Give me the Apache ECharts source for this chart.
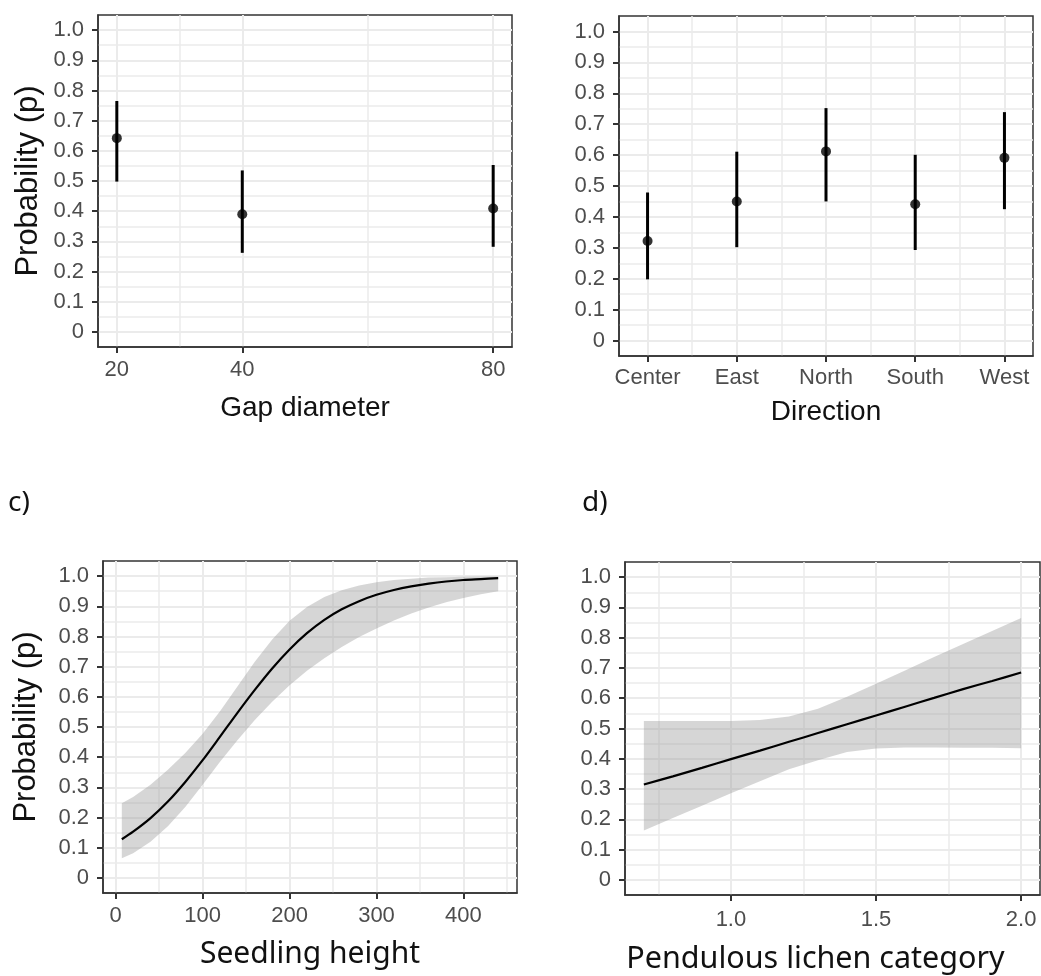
<!DOCTYPE html>
<html>
<head>
<meta charset="utf-8">
<script src="https://cdn.jsdelivr.net/npm/echarts@6/dist/echarts.min.js"></script>
<style>
  html, body { margin: 0; padding: 0; background: #fff; }
  #chart { width: 1041px; height: 976px; }
</style>
</head>
<body>
<div id="chart"></div>
<script>
// shared probability axis
const probTicks = [0, 0.1, 0.2, 0.3, 0.4, 0.5, 0.6, 0.7, 0.8, 0.9, 1.0]
const probMinor = [0.05, 0.15, 0.25, 0.35, 0.45, 0.55, 0.65, 0.75, 0.85, 0.95]

// a) gap diameter
const gapDiameter = [20, 40, 80]
const gapProb = [0.642, 0.390, 0.409]
const gapLower = [0.498, 0.262, 0.282]
const gapUpper = [0.765, 0.535, 0.553]
const gapTicks = [20, 40, 80]
const gapMinor = [30, 60]

// b) direction
const directions = ['Center', 'East', 'North', 'South', 'West']
const dirProb = [0.322, 0.450, 0.612, 0.441, 0.591]
const dirLower = [0.198, 0.302, 0.450, 0.293, 0.425]
const dirUpper = [0.479, 0.611, 0.752, 0.601, 0.739]
const dirTicks = [1, 2, 3, 4, 5]
const dirMinor = [1.5, 2.5, 3.5, 4.5]

// c) seedling height
const heightX = [7, 20, 40, 60, 80, 100, 120, 140, 160, 180, 200, 220, 240, 260, 280, 300, 320, 340, 360, 380, 400, 420, 440]
const heightProb = [0.128, 0.153, 0.198, 0.253, 0.318, 0.390, 0.468, 0.547, 0.623, 0.694, 0.757, 0.811, 0.855, 0.890, 0.917, 0.938, 0.954, 0.966, 0.975, 0.982, 0.987, 0.990, 0.993]
const heightLower = [0.065, 0.082, 0.120, 0.171, 0.235, 0.309, 0.385, 0.456, 0.523, 0.584, 0.638, 0.686, 0.728, 0.765, 0.798, 0.826, 0.853, 0.876, 0.896, 0.913, 0.927, 0.940, 0.950]
const heightUpper = [0.247, 0.268, 0.309, 0.358, 0.414, 0.478, 0.552, 0.634, 0.716, 0.790, 0.852, 0.898, 0.931, 0.953, 0.969, 0.980, 0.987, 0.991, 0.995, 0.996, 0.998, 0.999, 0.999]
const heightTicks = [0, 100, 200, 300, 400]
const heightMinor = [50, 150, 250, 350, 450]

// d) pendulous lichen category
const lichenX = [0.7, 0.8, 0.9, 1.0, 1.1, 1.2, 1.3, 1.4, 1.5, 1.6, 1.7, 1.8, 1.9, 2.0]
const lichenProb = [0.315, 0.342, 0.370, 0.399, 0.427, 0.456, 0.485, 0.514, 0.543, 0.572, 0.601, 0.630, 0.657, 0.685]
const lichenLower = [0.163, 0.204, 0.245, 0.286, 0.326, 0.365, 0.395, 0.422, 0.434, 0.437, 0.437, 0.436, 0.436, 0.435]
const lichenUpper = [0.525, 0.525, 0.525, 0.525, 0.528, 0.540, 0.565, 0.605, 0.648, 0.692, 0.736, 0.779, 0.822, 0.865]
const lichenTicks = [1.0, 1.5, 2.0]
const lichenMinor = [0.75, 1.25, 1.75]

const SANS = '"Liberation Sans", Arial, sans-serif'
const NOTO = '"Noto Sans", sans-serif'
const GRID_COLOR = '#ebebeb'
const AXIS_COLOR = '#333'
const LABEL_COLOR = '#4d4d4d'
const TICK_FONT = 22

const panels = [
  {
    box: { left: 98, top: 15, width: 414, height: 332 },
    xMin: 17, xMax: 83, xTicks: gapTicks, xMinor: gapMinor,
    xFormat: v => String(v), xMargin: 12,
    xName: 'Gap diameter', xNameGap: 47, xNameFont: SANS, xNameSize: 28, xNamePad: 0,
    yName: 'Probability (p)', yNameGap: 54
  },
  {
    box: { left: 619, top: 16, width: 414, height: 340 },
    xMin: 0.68, xMax: 5.32, xTicks: dirTicks, xMinor: dirMinor,
    xFormat: v => directions[Math.round(v) - 1], xMargin: 11,
    xName: 'Direction', xNameGap: 42, xNameFont: SANS, xNameSize: 28, xNamePad: 0,
    yName: '', yNameGap: 0
  },
  {
    box: { left: 103, top: 561, width: 414, height: 332 },
    xMin: -14.65, xMax: 461.65, xTicks: heightTicks, xMinor: heightMinor,
    xFormat: v => String(v), xMargin: 12,
    xName: 'Seedling height', xNameGap: 46, xNameFont: NOTO, xNameSize: 30, xNamePad: 0,
    yName: 'Probability (p)', yNameGap: 61
  },
  {
    box: { left: 625, top: 562, width: 415, height: 333 },
    xMin: 0.635, xMax: 2.065, xTicks: lichenTicks, xMinor: lichenMinor,
    xFormat: v => v.toFixed(1), xMargin: 14,
    xName: 'Pendulous lichen category', xNameGap: 49, xNameFont: NOTO, xNameSize: 30.5, xNamePad: 34,
    yName: '', yNameGap: 0
  }
]

const grids = []
const xAxes = []
const yAxes = []

panels.forEach((p, i) => {
  grids.push({
    ...p.box,
    show: true,
    borderColor: AXIS_COLOR,
    borderWidth: 1.5,
    backgroundColor: 'transparent',
    containLabel: false,
    outerBoundsMode: 'none'
  })

  // main x axis: ticks, labels, major grid
  xAxes.push({
    type: 'value', gridIndex: i, position: 'bottom',
    min: p.xMin, max: p.xMax,
    name: p.xName, nameLocation: 'middle', nameGap: p.xNameGap,
    nameTextStyle: {
      fontFamily: p.xNameFont, fontSize: p.xNameSize, color: '#111',
      padding: [0, p.xNamePad, 0, 0]
    },
    axisLine: { show: true, onZero: false, lineStyle: { color: AXIS_COLOR, width: 1.5 } },
    axisTick: { show: true, length: 6, customValues: p.xTicks, lineStyle: { color: AXIS_COLOR, width: 2 } },
    axisLabel: {
      customValues: p.xTicks, formatter: p.xFormat, margin: p.xMargin,
      fontFamily: SANS, fontSize: TICK_FONT, color: LABEL_COLOR
    },
    splitLine: { show: true, lineStyle: { color: GRID_COLOR, width: 2 } }
  })
  // hidden x axis for minor grid lines
  xAxes.push({
    type: 'value', gridIndex: i, position: 'top',
    min: p.xMin, max: p.xMax,
    axisLine: { show: false },
    axisTick: { show: false, customValues: p.xMinor },
    axisLabel: { show: false, customValues: p.xMinor },
    splitLine: { show: true, lineStyle: { color: GRID_COLOR, width: 1.5 } }
  })

  yAxes.push({
    type: 'value', gridIndex: i, position: 'left',
    min: -0.05, max: 1.05,
    name: p.yName, nameLocation: 'middle', nameGap: p.yNameGap,
    nameTextStyle: { fontFamily: SANS, fontSize: 31, color: '#111' },
    axisLine: { show: true, onZero: false, lineStyle: { color: AXIS_COLOR, width: 1.5 } },
    axisTick: { show: true, length: 6, customValues: probTicks, lineStyle: { color: AXIS_COLOR, width: 2 } },
    axisLabel: {
      customValues: probTicks, margin: 14,
      formatter: v => (v === 0 ? '0' : v.toFixed(1)),
      fontFamily: SANS, fontSize: TICK_FONT, color: LABEL_COLOR
    },
    splitLine: { show: true, lineStyle: { color: GRID_COLOR, width: 2 } }
  })
  yAxes.push({
    type: 'value', gridIndex: i, position: 'right',
    min: -0.05, max: 1.05,
    axisLine: { show: false },
    axisTick: { show: false, customValues: probMinor },
    axisLabel: { show: false, customValues: probMinor },
    splitLine: { show: true, lineStyle: { color: GRID_COLOR, width: 1.5 } }
  })
})

function errorBars(panel, xs, lower, upper) {
  return {
    type: 'custom',
    xAxisIndex: panel * 2, yAxisIndex: panel * 2,
    data: xs.map((x, i) => [x, lower[i], upper[i]]),
    encode: { x: 0, y: [1, 2] },
    z: 3,
    silent: true,
    renderItem: (params, api) => {
      const top = api.coord([api.value(0), api.value(2)])
      const bottom = api.coord([api.value(0), api.value(1)])
      return {
        type: 'line',
        shape: { x1: top[0], y1: top[1], x2: bottom[0], y2: bottom[1] },
        style: { stroke: '#000', lineWidth: 3 }
      }
    }
  }
}

function points(panel, xs, ys) {
  return {
    type: 'scatter',
    xAxisIndex: panel * 2, yAxisIndex: panel * 2,
    data: xs.map((x, i) => [x, ys[i]]),
    symbol: 'circle', symbolSize: 10,
    itemStyle: { color: '#000' },
    z: 4,
    silent: true
  }
}

// confidence ribbon drawn as one polygon from the first item
function ribbon(panel, xs, lower, upper) {
  return {
    type: 'custom',
    xAxisIndex: panel * 2, yAxisIndex: panel * 2,
    data: xs.map((x, i) => [x, lower[i], upper[i]]),
    encode: { x: 0, y: [1, 2] },
    z: 2,
    silent: true,
    renderItem: (params, api) => {
      if (params.dataIndexInside !== 0) return
      const n = params.dataInsideLength
      const pts = []
      for (let i = 0; i < n; i++) pts.push(api.coord([api.value(0, i), api.value(2, i)]))
      for (let i = n - 1; i >= 0; i--) pts.push(api.coord([api.value(0, i), api.value(1, i)]))
      return {
        type: 'polygon',
        shape: { points: pts },
        style: { fill: 'rgba(153, 153, 153, 0.4)' }
      }
    }
  }
}

function curve(panel, xs, ys) {
  return {
    type: 'line',
    xAxisIndex: panel * 2, yAxisIndex: panel * 2,
    data: xs.map((x, i) => [x, ys[i]]),
    showSymbol: false,
    smooth: 0.3,
    lineStyle: { color: '#000', width: 2.2 },
    z: 3,
    silent: true
  }
}

const chart = echarts.init(document.getElementById('chart'))

chart.setOption({
  animation: false,
  backgroundColor: '#fff',
  textStyle: { fontFamily: SANS },
  grid: grids,
  xAxis: xAxes,
  yAxis: yAxes,
  graphic: [
    { type: 'text', left: 8, top: 489, style: { text: 'c)', fontFamily: '"Noto Sans"', fontSize: 28, fill: '#111' } },
    { type: 'text', left: 582, top: 489, style: { text: 'd)', fontFamily: '"Noto Sans"', fontSize: 28, fill: '#111' } }
  ],
  series: [
    errorBars(0, gapDiameter, gapLower, gapUpper),
    points(0, gapDiameter, gapProb),
    errorBars(1, dirTicks, dirLower, dirUpper),
    points(1, dirTicks, dirProb),
    ribbon(2, heightX, heightLower, heightUpper),
    curve(2, heightX, heightProb),
    ribbon(3, lichenX, lichenLower, lichenUpper),
    curve(3, lichenX, lichenProb)
  ]
})
</script>
</body>
</html>
